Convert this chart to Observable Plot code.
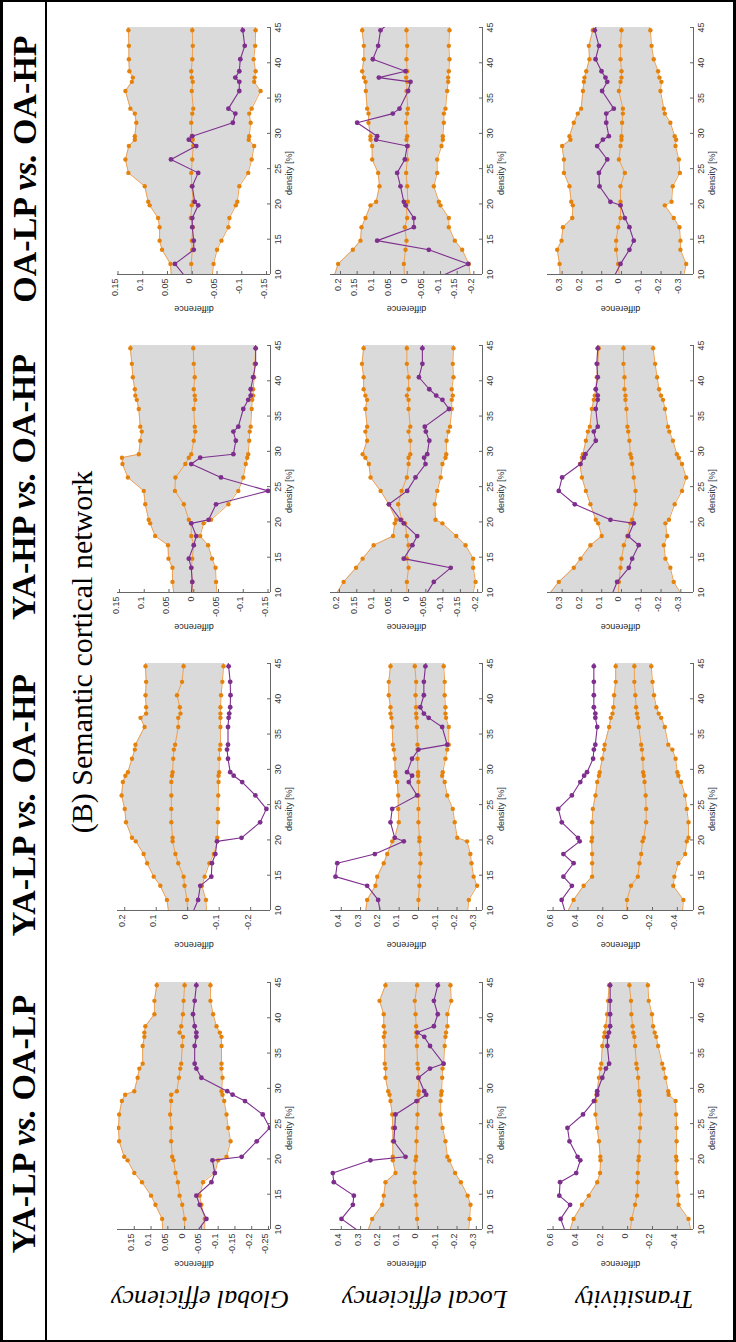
<!DOCTYPE html>
<html>
<head>
<meta charset="utf-8">
<script src="https://cdn.jsdelivr.net/npm/d3@7"></script>
<script src="https://cdn.jsdelivr.net/npm/@observablehq/plot@0.6"></script>
<style>
  body { margin: 0; background: #fff; }
  #fig { position: relative; width: 736px; height: 1342px; overflow: hidden; background: #fff; }
  #fig svg { position: absolute; }
  .lbl { position: absolute; white-space: nowrap; transform-origin: center center; color: #000; }
  .hdr { font-family: "Liberation Serif", "Times New Roman", serif; font-weight: bold; font-size: 34px; }
  .ttl { font-family: "Liberation Serif", "Times New Roman", serif; font-size: 30px; }
  .met { font-family: "Liberation Serif", "Times New Roman", serif; font-style: italic; font-size: 26px; }
</style>
</head>
<body>
<div id="fig"></div>
<script>
// Network densities (%) at which the measures were evaluated
const density = [9.6, 11.5, 13.5, 14.8, 16.7, 18.0, 19.8, 20.3, 22.5, 24.4, 26.3, 28.2, 29.1, 29.6, 31.5, 32.8, 33.5, 36.0, 37.3, 37.9, 38.8, 40.5, 42.4, 44.6, 45.4];
const densityTicks = [10, 15, 20, 25, 30, 35, 40, 45];

const comparisons = ["OA-LP|OA-HP", "YA-HP|OA-HP", "YA-LP|OA-HP", "YA-LP|OA-LP"];
const measures = ["Global efficiency", "Local efficiency", "Transitivity"];

// ---- OA-LP vs. OA-HP ----
const oaLpOaHp_ge_upper = [0.042, 0.044, 0.061, 0.066, 0.066, 0.069, 0.086, 0.089, 0.096, 0.129, 0.135, 0.128, 0.116, 0.116, 0.113, 0.116, 0.125, 0.135, 0.122, 0.120, 0.127, 0.128, 0.128, 0.129, 0.130];
const oaLpOaHp_ge_mean  = [0.001, 0.002, 0.000, 0.001, -0.001, 0.003, 0.001, -0.002, 0.001, 0.002, 0.000, -0.002, -0.001, 0.001, 0.002, 0.000, -0.002, 0.001, -0.001, 0.001, 0.002, 0.000, -0.001, 0.000, 0.000];
const oaLpOaHp_ge_lower = [-0.040, -0.043, -0.050, -0.059, -0.073, -0.075, -0.088, -0.091, -0.095, -0.113, -0.120, -0.125, -0.114, -0.115, -0.118, -0.115, -0.120, -0.138, -0.125, -0.126, -0.128, -0.124, -0.127, -0.128, -0.128];
const oaLpOaHp_ge_diff  = [0.013, 0.035, -0.003, -0.003, 0.000, 0.000, -0.012, -0.005, 0.000, -0.012, 0.043, -0.008, 0.007, 0.000, -0.082, -0.087, -0.073, -0.095, -0.095, -0.087, -0.095, -0.097, -0.106, -0.102, -0.100];

const oaLpOaHp_le_upper = [0.220, 0.207, 0.163, 0.140, 0.137, 0.125, 0.110, 0.093, 0.083, 0.087, 0.105, 0.105, 0.110, 0.110, 0.116, 0.116, 0.120, 0.124, 0.125, 0.130, 0.135, 0.130, 0.130, 0.135, 0.135];
const oaLpOaHp_le_mean  = [0.008, 0.010, 0.005, 0.002, 0.007, 0.000, 0.003, -0.002, 0.000, 0.003, 0.000, -0.003, 0.002, 0.000, 0.003, 0.000, -0.002, 0.002, 0.000, 0.003, 0.000, 0.002, 0.000, 0.002, 0.002];
const oaLpOaHp_le_lower = [-0.190, -0.185, -0.165, -0.143, -0.125, -0.125, -0.100, -0.095, -0.080, -0.090, -0.090, -0.103, -0.107, -0.107, -0.110, -0.110, -0.115, -0.120, -0.123, -0.123, -0.125, -0.127, -0.125, -0.127, -0.127];
const oaLpOaHp_le_diff  = [-0.094, -0.183, -0.065, 0.090, -0.020, -0.020, 0.005, 0.010, 0.020, 0.030, 0.007, 0.000, 0.093, 0.090, 0.150, 0.043, 0.023, -0.003, -0.010, 0.085, 0.005, 0.103, 0.087, 0.080, 0.060];

const oaLpOaHp_tr_upper = [0.310, 0.313, 0.325, 0.303, 0.296, 0.249, 0.246, 0.254, 0.263, 0.291, 0.291, 0.300, 0.258, 0.263, 0.241, 0.221, 0.204, 0.195, 0.190, 0.187, 0.178, 0.162, 0.165, 0.145, 0.140];
const oaLpOaHp_tr_mean  = [0.010, 0.017, 0.027, 0.027, 0.017, 0.005, 0.005, 0.005, 0.005, -0.017, 0.013, 0.005, 0.000, 0.000, -0.003, -0.007, -0.007, 0.013, 0.005, 0.000, 0.000, 0.005, 0.005, 0.000, 0.000];
const oaLpOaHp_tr_lower = [-0.313, -0.327, -0.298, -0.298, -0.293, -0.264, -0.219, -0.253, -0.259, -0.295, -0.290, -0.273, -0.276, -0.269, -0.247, -0.219, -0.214, -0.197, -0.202, -0.192, -0.185, -0.163, -0.152, -0.146, -0.140];
const oaLpOaHp_tr_diff  = [0.039, 0.005, -0.040, -0.062, -0.040, -0.017, 0.005, 0.056, 0.111, 0.114, 0.072, 0.123, 0.094, 0.064, 0.077, 0.077, 0.039, 0.098, 0.072, 0.081, 0.101, 0.131, 0.114, 0.135, 0.125];

// ---- YA-HP vs. OA-HP ----
const yaHpOaHp_ge_upper = [0.040, 0.043, 0.043, 0.051, 0.052, 0.078, 0.088, 0.091, 0.098, 0.101, 0.133, 0.144, 0.145, 0.111, 0.108, 0.105, 0.108, 0.111, 0.115, 0.118, 0.119, 0.123, 0.125, 0.128, 0.128];
const yaHpOaHp_ge_mean  = [0.003, 0.003, 0.005, 0.003, 0.000, 0.005, 0.005, 0.010, 0.020, 0.038, 0.037, 0.017, 0.010, 0.005, 0.000, -0.003, -0.002, 0.000, -0.003, -0.002, 0.000, -0.002, 0.000, 0.001, 0.001];
const yaHpOaHp_ge_lower = [-0.047, -0.045, -0.044, -0.037, -0.029, -0.013, -0.020, -0.035, -0.070, -0.090, -0.100, -0.105, -0.108, -0.110, -0.112, -0.113, -0.115, -0.117, -0.118, -0.120, -0.120, -0.122, -0.123, -0.125, -0.125];
const yaHpOaHp_ge_diff  = [0.005, 0.003, 0.005, 0.010, 0.000, -0.005, 0.005, -0.030, -0.045, -0.150, -0.055, 0.005, -0.013, -0.080, -0.085, -0.080, -0.090, -0.100, -0.110, -0.115, -0.115, -0.120, -0.125, -0.125, -0.125];

const yaHpOaHp_le_upper = [0.212, 0.188, 0.152, 0.133, 0.101, 0.045, 0.040, 0.036, 0.057, 0.081, 0.110, 0.115, 0.125, 0.133, 0.120, 0.125, 0.120, 0.125, 0.120, 0.125, 0.130, 0.130, 0.135, 0.130, 0.130];
const yaHpOaHp_le_mean  = [0.005, 0.005, 0.000, 0.005, 0.000, 0.005, 0.010, 0.020, 0.030, 0.020, 0.005, 0.000, 0.000, -0.005, -0.005, 0.000, -0.005, 0.000, 0.000, 0.005, 0.000, 0.000, 0.005, 0.005, 0.005];
const yaHpOaHp_le_lower = [-0.185, -0.194, -0.187, -0.187, -0.165, -0.138, -0.098, -0.078, -0.076, -0.083, -0.093, -0.098, -0.107, -0.109, -0.110, -0.115, -0.120, -0.125, -0.125, -0.128, -0.125, -0.130, -0.128, -0.130, -0.130];
const yaHpOaHp_le_diff  = [-0.049, -0.073, -0.122, 0.014, -0.011, -0.025, 0.014, 0.023, 0.057, 0.004, -0.020, -0.049, -0.045, -0.054, -0.060, -0.050, -0.047, -0.117, -0.098, -0.080, -0.060, -0.030, -0.040, -0.040, -0.040];

const yaHpOaHp_tr_upper = [0.370, 0.317, 0.241, 0.207, 0.157, 0.100, 0.118, 0.130, 0.157, 0.180, 0.200, 0.210, 0.200, 0.195, 0.180, 0.170, 0.160, 0.150, 0.140, 0.135, 0.130, 0.125, 0.120, 0.115, 0.115];
const yaHpOaHp_tr_mean  = [0.015, 0.013, 0.005, 0.000, -0.012, -0.029, -0.045, -0.054, -0.071, -0.071, -0.062, -0.054, -0.050, -0.045, -0.040, -0.034, -0.030, -0.025, -0.020, -0.020, -0.015, -0.015, -0.010, -0.010, -0.010];
const yaHpOaHp_tr_lower = [-0.306, -0.264, -0.247, -0.222, -0.214, -0.231, -0.222, -0.240, -0.269, -0.306, -0.327, -0.306, -0.290, -0.280, -0.260, -0.242, -0.235, -0.220, -0.210, -0.200, -0.190, -0.180, -0.170, -0.160, -0.160];
const yaHpOaHp_tr_diff  = [0.050, 0.022, -0.037, -0.054, -0.087, -0.034, -0.062, 0.056, 0.236, 0.317, 0.300, 0.207, 0.190, 0.182, 0.130, 0.140, 0.120, 0.130, 0.120, 0.120, 0.130, 0.120, 0.125, 0.120, 0.120];

// ---- YA-LP vs. OA-HP ----
const yaLpOaHp_ge_upper = [0.060, 0.066, 0.087, 0.108, 0.129, 0.140, 0.165, 0.177, 0.196, 0.200, 0.210, 0.206, 0.198, 0.190, 0.177, 0.168, 0.166, 0.137, 0.150, 0.132, 0.132, 0.134, 0.132, 0.134, 0.134];
const yaLpOaHp_ge_mean  = [0.000, 0.002, 0.010, 0.013, 0.030, 0.039, 0.048, 0.048, 0.052, 0.052, 0.052, 0.052, 0.050, 0.048, 0.046, 0.044, 0.040, 0.030, 0.030, 0.023, 0.025, 0.034, 0.018, 0.013, 0.013];
const yaLpOaHp_ge_lower = [-0.060, -0.058, -0.045, -0.054, -0.069, -0.083, -0.093, -0.094, -0.096, -0.096, -0.097, -0.098, -0.098, -0.100, -0.100, -0.102, -0.104, -0.104, -0.104, -0.104, -0.104, -0.106, -0.110, -0.114, -0.114];
const yaLpOaHp_ge_diff  = [-0.015, -0.033, -0.040, -0.075, -0.077, -0.088, -0.093, -0.171, -0.230, -0.250, -0.215, -0.173, -0.146, -0.135, -0.128, -0.125, -0.128, -0.128, -0.130, -0.132, -0.135, -0.136, -0.135, -0.130, -0.128];

const yaLpOaHp_le_upper = [0.275, 0.266, 0.223, 0.214, 0.180, 0.162, 0.136, 0.123, 0.102, 0.105, 0.105, 0.110, 0.119, 0.120, 0.123, 0.128, 0.133, 0.136, 0.140, 0.145, 0.145, 0.154, 0.154, 0.145, 0.145];
const yaLpOaHp_le_mean  = [0.000, 0.000, -0.005, -0.005, -0.010, -0.010, -0.005, -0.005, 0.000, 0.000, 0.000, 0.000, 0.002, 0.002, 0.005, 0.005, 0.005, 0.008, 0.010, 0.012, 0.012, 0.015, 0.012, 0.019, 0.020];
const yaLpOaHp_le_lower = [-0.254, -0.261, -0.304, -0.286, -0.275, -0.269, -0.252, -0.201, -0.188, -0.178, -0.149, -0.136, -0.123, -0.126, -0.140, -0.149, -0.157, -0.157, -0.143, -0.140, -0.140, -0.136, -0.136, -0.131, -0.130];
const yaLpOaHp_le_diff  = [0.197, 0.209, 0.266, 0.430, 0.421, 0.226, 0.076, 0.123, 0.145, 0.136, 0.007, 0.050, 0.033, 0.059, 0.033, 0.000, -0.149, -0.123, -0.053, -0.028, -0.010, -0.028, -0.028, -0.036, -0.040];

const yaLpOaHp_tr_upper = [0.490, 0.435, 0.354, 0.286, 0.286, 0.286, 0.290, 0.286, 0.286, 0.280, 0.259, 0.245, 0.231, 0.225, 0.204, 0.190, 0.185, 0.149, 0.136, 0.122, 0.115, 0.109, 0.096, 0.096, 0.096];
const yaLpOaHp_tr_mean  = [0.010, 0.005, -0.027, -0.082, -0.095, -0.109, -0.120, -0.130, -0.149, -0.149, -0.145, -0.136, -0.130, -0.125, -0.122, -0.115, -0.109, -0.090, -0.082, -0.075, -0.068, -0.062, -0.054, -0.054, -0.054];
const yaLpOaHp_tr_lower = [-0.440, -0.449, -0.367, -0.376, -0.408, -0.463, -0.476, -0.490, -0.490, -0.476, -0.463, -0.430, -0.408, -0.400, -0.386, -0.360, -0.327, -0.299, -0.270, -0.250, -0.231, -0.212, -0.200, -0.190, -0.190];
const yaLpOaHp_tr_diff  = [0.500, 0.531, 0.449, 0.517, 0.435, 0.517, 0.386, 0.400, 0.530, 0.558, 0.449, 0.381, 0.350, 0.327, 0.278, 0.272, 0.260, 0.245, 0.260, 0.260, 0.272, 0.272, 0.272, 0.272, 0.270];

// ---- YA-LP vs. OA-LP ----
const yaLpOaLp_ge_upper = [0.065, 0.067, 0.087, 0.100, 0.127, 0.150, 0.170, 0.180, 0.195, 0.197, 0.195, 0.187, 0.177, 0.150, 0.140, 0.135, 0.125, 0.125, 0.120, 0.120, 0.117, 0.090, 0.090, 0.083, 0.083];
const yaLpOaLp_ge_mean  = [0.000, 0.000, 0.007, 0.015, 0.020, 0.027, 0.033, 0.037, 0.040, 0.040, 0.043, 0.040, 0.040, 0.023, 0.017, 0.013, 0.010, 0.007, 0.005, 0.015, 0.010, 0.005, 0.003, 0.000, 0.000];
const yaLpOaLp_ge_lower = [-0.060, -0.060, -0.050, -0.045, -0.055, -0.090, -0.100, -0.125, -0.137, -0.130, -0.125, -0.118, -0.113, -0.110, -0.113, -0.110, -0.110, -0.110, -0.110, -0.105, -0.095, -0.085, -0.077, -0.077, -0.077];
const yaLpOaLp_ge_diff  = [-0.035, -0.065, -0.045, -0.035, -0.080, -0.090, -0.083, -0.170, -0.215, -0.254, -0.233, -0.180, -0.143, -0.127, -0.050, -0.035, -0.030, -0.030, -0.035, -0.035, -0.030, -0.025, -0.030, -0.035, -0.035];

const yaLpOaLp_le_upper = [0.265, 0.240, 0.188, 0.180, 0.171, 0.119, 0.133, 0.133, 0.133, 0.133, 0.136, 0.145, 0.150, 0.157, 0.171, 0.171, 0.175, 0.175, 0.180, 0.175, 0.180, 0.180, 0.202, 0.171, 0.171];
const yaLpOaLp_le_mean  = [0.005, 0.007, 0.010, 0.015, 0.019, 0.019, 0.015, 0.012, 0.010, 0.008, 0.005, 0.003, 0.000, -0.002, 0.000, 0.002, 0.005, 0.008, 0.010, 0.012, 0.012, 0.015, 0.019, 0.007, 0.007];
const yaLpOaLp_le_lower = [-0.260, -0.265, -0.270, -0.255, -0.220, -0.190, -0.160, -0.150, -0.140, -0.125, -0.115, -0.115, -0.118, -0.120, -0.123, -0.125, -0.130, -0.136, -0.140, -0.143, -0.150, -0.150, -0.170, -0.166, -0.160];
const yaLpOaLp_le_diff  = [0.301, 0.399, 0.340, 0.335, 0.439, 0.444, 0.249, 0.067, 0.128, 0.123, 0.119, 0.010, -0.040, -0.030, 0.000, -0.060, -0.130, -0.060, -0.030, 0.005, -0.080, -0.100, -0.080, -0.100, -0.110];

const yaLpOaLp_tr_upper = [0.470, 0.435, 0.367, 0.313, 0.245, 0.222, 0.218, 0.220, 0.231, 0.245, 0.259, 0.259, 0.251, 0.245, 0.231, 0.220, 0.212, 0.204, 0.190, 0.185, 0.177, 0.165, 0.158, 0.149, 0.141];
const yaLpOaLp_tr_mean  = [-0.020, -0.033, -0.060, -0.076, -0.080, -0.082, -0.087, -0.090, -0.095, -0.100, -0.103, -0.100, -0.095, -0.092, -0.085, -0.076, -0.070, -0.060, -0.054, -0.045, -0.040, -0.030, -0.027, -0.014, -0.012];
const yaLpOaLp_tr_lower = [-0.510, -0.490, -0.410, -0.408, -0.400, -0.394, -0.394, -0.390, -0.394, -0.394, -0.390, -0.386, -0.330, -0.327, -0.305, -0.290, -0.278, -0.245, -0.230, -0.218, -0.205, -0.196, -0.170, -0.163, -0.158];
const yaLpOaLp_tr_diff  = [0.500, 0.539, 0.463, 0.550, 0.544, 0.414, 0.381, 0.403, 0.468, 0.484, 0.359, 0.272, 0.245, 0.245, 0.204, 0.175, 0.149, 0.163, 0.163, 0.150, 0.141, 0.141, 0.141, 0.141, 0.140];

// Axis ranges (left = most positive) and tick values for each panel
const geTicksA = [0.15, 0.1, 0.05, 0, -0.05, -0.1, -0.15];
const leTicksA = [0.2, 0.15, 0.1, 0.05, 0, -0.05, -0.1, -0.15, -0.2];
const trTicksA = [0.3, 0.2, 0.1, 0, -0.1, -0.2, -0.3];
const geTicksB = [0.2, 0.1, 0, -0.1, -0.2];
const geTicksC = [0.15, 0.1, 0.05, 0, -0.05, -0.1, -0.15, -0.2, -0.25];
const leTicksB = [0.4, 0.3, 0.2, 0.1, 0, -0.1, -0.2, -0.3];
const trTicksB = [0.6, 0.4, 0.2, 0, -0.2, -0.4];

const panels = [
  [ {u: oaLpOaHp_ge_upper, m: oaLpOaHp_ge_mean, l: oaLpOaHp_ge_lower, o: oaLpOaHp_ge_diff, domain: [0.151, -0.158], ticks: geTicksA},
    {u: oaLpOaHp_le_upper, m: oaLpOaHp_le_mean, l: oaLpOaHp_le_lower, o: oaLpOaHp_le_diff, domain: [0.230, -0.226], ticks: leTicksA},
    {u: oaLpOaHp_tr_upper, m: oaLpOaHp_tr_mean, l: oaLpOaHp_tr_lower, o: oaLpOaHp_tr_diff, domain: [0.374, -0.364], ticks: trTicksA} ],
  [ {u: yaHpOaHp_ge_upper, m: yaHpOaHp_ge_mean, l: yaHpOaHp_ge_lower, o: yaHpOaHp_ge_diff, domain: [0.154, -0.155], ticks: geTicksA},
    {u: yaHpOaHp_le_upper, m: yaHpOaHp_le_mean, l: yaHpOaHp_le_lower, o: yaHpOaHp_le_diff, domain: [0.226, -0.214], ticks: leTicksA},
    {u: yaHpOaHp_tr_upper, m: yaHpOaHp_tr_mean, l: yaHpOaHp_tr_lower, o: yaHpOaHp_tr_diff, domain: [0.374, -0.364], ticks: trTicksA} ],
  [ {u: yaLpOaHp_ge_upper, m: yaLpOaHp_ge_mean, l: yaLpOaHp_ge_lower, o: yaLpOaHp_ge_diff, domain: [0.223, -0.263], ticks: geTicksB},
    {u: yaLpOaHp_le_upper, m: yaLpOaHp_le_mean, l: yaLpOaHp_le_lower, o: yaLpOaHp_le_diff, domain: [0.456, -0.332], ticks: leTicksB},
    {u: yaLpOaHp_tr_upper, m: yaLpOaHp_tr_mean, l: yaLpOaHp_tr_lower, o: yaLpOaHp_tr_diff, domain: [0.645, -0.530], ticks: trTicksB} ],
  [ {u: yaLpOaLp_ge_upper, m: yaLpOaLp_ge_mean, l: yaLpOaLp_ge_lower, o: yaLpOaLp_ge_diff, domain: [0.200, -0.256], ticks: geTicksC},
    {u: yaLpOaLp_le_upper, m: yaLpOaLp_le_mean, l: yaLpOaLp_le_lower, o: yaLpOaLp_le_diff, domain: [0.456, -0.332], ticks: leTicksB},
    {u: yaLpOaLp_tr_upper, m: yaLpOaLp_tr_mean, l: yaLpOaLp_tr_lower, o: yaLpOaLp_tr_diff, domain: [0.645, -0.530], ticks: trTicksB} ]
];

// Page geometry of the plot areas
const colX = [[117, 270], [330, 482], [547, 693]];
const rowTop = [27, 345, 663, 982];
const plotH = 247;
const M = {top: 4, right: 40, bottom: 48, left: 4};

const ORANGE = "#e5820b", ORANGE_LINE = "#eea050", PURPLE = "#7e2f8e", BAND = "#dadada", AXIS = "#666";

const fig = document.getElementById("fig");

function drawPanel(p, row, col) {
  const [L, R] = colX[col];
  const T = rowTop[row];
  const w = R - L, h = plotH;
  const data = density.map((d, i) => ({d, up: p.u[i], mid: p.m[i], lo: p.l[i], obs: p.o[i]}));
  const series = ["up", "mid", "lo"].flatMap((k) => [
    Plot.lineX(data, {x: k, y: "d", stroke: ORANGE_LINE, strokeWidth: 1, clip: true}),
    Plot.dot(data, {x: k, y: "d", r: 2.2, fill: ORANGE, clip: true})
  ]);
  const svg = Plot.plot({
    width: w + M.left + M.right,
    height: h + M.top + M.bottom,
    marginTop: M.top, marginRight: M.right, marginBottom: M.bottom, marginLeft: M.left,
    x: {domain: p.domain, axis: null},
    y: {domain: [10, 45], axis: null},
    style: {background: "transparent", fontFamily: "'Liberation Sans', Arial, sans-serif", overflow: "visible"},
    marks: [
      Plot.areaX(data, {y: "d", x1: "lo", x2: "up", fill: BAND, clip: true}),
      ...series,
      Plot.lineX(data, {x: "obs", y: "d", stroke: PURPLE, strokeWidth: 1.1, clip: true}),
      Plot.dot(data, {x: "obs", y: "d", r: 2.4, fill: PURPLE, clip: true}),
      // axes: difference along the bottom, density along the right
      Plot.ruleY([10], {stroke: AXIS}),
      Plot.ruleX([p.domain[1]], {stroke: AXIS}),
      Plot.tickX(p.ticks, {x: (d) => d, stroke: AXIS, insetTop: h - 3}),
      Plot.tickY(densityTicks, {y: (d) => d, stroke: AXIS, insetLeft: w - 3}),
      Plot.text(p.ticks, {x: (d) => d, text: (d) => String(d), frameAnchor: "bottom", dy: 4, rotate: -90, textAnchor: "end", fontSize: 9, fill: "#333"}),
      Plot.text(densityTicks, {y: (d) => d, text: (d) => String(d), frameAnchor: "right", dx: 8, rotate: -90, textAnchor: "middle", fontSize: 9, fill: "#333"}),
      Plot.text(["difference"], {text: (d) => d, frameAnchor: "bottom", dy: 31, rotate: 180, fontSize: 9, fill: "#222"}),
      Plot.text(["density [%]"], {text: (d) => d, frameAnchor: "right", dx: 19, rotate: -90, fontSize: 9, fill: "#2c3545"})
    ]
  });
  svg.style.left = (L - M.left) + "px";
  svg.style.top = (T - M.top) + "px";
  fig.appendChild(svg);
}

panels.forEach((rowPanels, r) => rowPanels.forEach((p, c) => drawPanel(p, r, c)));

// Text labels placed around the panel grid
function label(html, cls, cx, cy, angle) {
  const el = document.createElement("div");
  el.className = "lbl " + cls;
  el.innerHTML = html;
  fig.appendChild(el);
  const bw = el.offsetWidth, bh = el.offsetHeight;
  el.style.left = (cx - bw / 2) + "px";
  el.style.top = (cy - bh / 2) + "px";
  el.style.transform = `rotate(${angle}deg)`;
}

comparisons.forEach((c, r) => {
  const [a, b] = c.split("|");
  label(`${a} <i>vs.</i> ${b}`, "hdr", 24, rowTop[r] + plotH / 2 + 18, -90);
});
label("(B) Semantic cortical network", "ttl", 82, 652, -90);
const measureX = [200, 424, 634];
measures.forEach((m, i) => label(m, "met", measureX[i], 1299, 180));

// Outer frame and header separator
function line(x, y, w, h) {
  const el = document.createElement("div");
  el.style.cssText = `position:absolute;left:${x}px;top:${y}px;width:${w}px;height:${h}px;background:#000`;
  fig.appendChild(el);
}
line(0, 0, 3, 1342);
line(0, 0, 736, 2);
line(0, 1340, 736, 2);
line(733, 0, 3, 1342);
line(45, 0, 2, 1342);
</script>
</body>
</html>
